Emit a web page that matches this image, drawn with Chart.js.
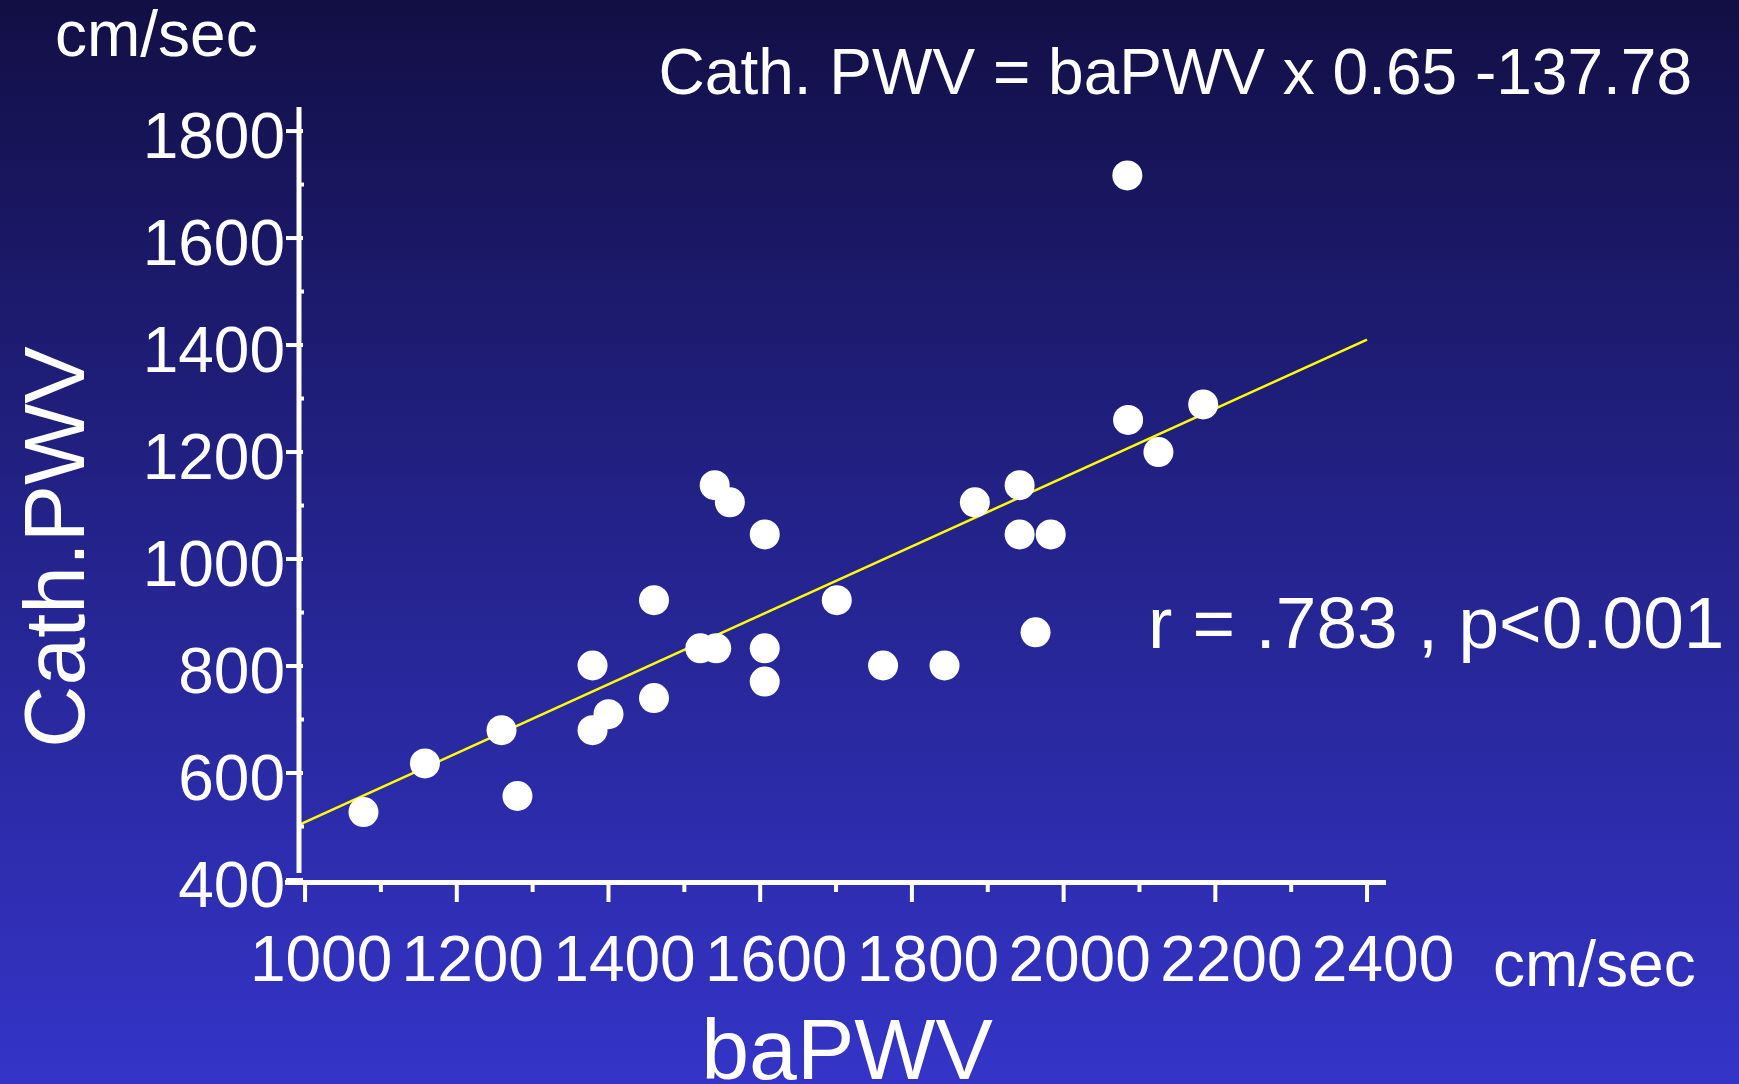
<!DOCTYPE html>
<html>
<head>
<meta charset="utf-8">
<script src="https://cdn.jsdelivr.net/npm/chart.js@4/dist/chart.umd.min.js"></script>
<style>
  html, body { margin: 0; padding: 0; overflow: hidden; background: #25248f; }
  #wrap { width: 1739px; height: 1084px; position: relative; }
</style>
</head>
<body>
<div id="wrap"><canvas id="c"></canvas></div>
<script>
// ---- data ----
const baPWV   = [1077, 1158, 1259, 1280, 1379, 1400, 1379, 1460, 1460, 1521, 1542, 1540, 1560, 1606, 1606, 1606, 1701, 1762, 1843, 1883, 1942, 1942, 1983, 1963, 2085, 2084, 2125, 2184];
const cathPWV = [527, 618, 680, 557, 680, 710, 801, 740, 923, 833, 833, 1138, 1106, 1046, 833, 771, 923, 801, 801, 1106, 1138, 1046, 1046, 863, 1260, 1717, 1200, 1289];
const trendX  = [992, 2400];
const trendY  = [503, 1410];
const xTicks  = [1000, 1200, 1400, 1600, 1800, 2000, 2200, 2400];
const xMinor  = [1100, 1300, 1500, 1700, 1900, 2100, 2300];
const yTicks  = [400, 600, 800, 1000, 1200, 1400, 1600, 1800];
const yMinor  = [500, 700, 900, 1100, 1300, 1500, 1700];
const equationText = 'Cath. PWV = baPWV x 0.65 -137.78';
const statsText = 'r = .783 , p<0.001';
const unitText = 'cm/sec';
const xTitle = 'baPWV';
const yTitle = 'Cath.PWV';

const FONT = '"Liberation Sans", Arial, Helvetica, sans-serif';

const bgPlugin = {
  id: 'bg',
  beforeDraw(chart) {
    const { ctx, width, height } = chart;
    const g = ctx.createLinearGradient(0, 0, 0, height);
    g.addColorStop(0, '#120f45');
    g.addColorStop(0.5, '#24238c');
    g.addColorStop(1, '#3434c8');
    ctx.save();
    ctx.fillStyle = g;
    ctx.fillRect(0, 0, width, height);
    ctx.restore();
  }
};

const axesPlugin = {
  id: 'axesDraw',
  afterDatasetsDraw(chart) {
    const { ctx, chartArea } = chart;
    const xs = chart.scales.x, ys = chart.scales.y;
    const L = chartArea.left, B = chartArea.bottom, T = chartArea.top, R = chartArea.right;
    ctx.save();
    ctx.strokeStyle = '#ffffff';
    ctx.lineCap = 'butt';
    ctx.lineWidth = 5;
    ctx.beginPath(); ctx.moveTo(L, T); ctx.lineTo(L, B - 7); ctx.stroke();
    ctx.beginPath(); ctx.moveTo(L - 14, B + 2.5); ctx.lineTo(R, B + 2.5); ctx.stroke();
    ctx.lineWidth = 4;
    yTicks.forEach(v => {
      const y = ys.getPixelForValue(v);
      ctx.beginPath(); ctx.moveTo(L - 13, y); ctx.lineTo(L + 4, y); ctx.stroke();
    });
    yMinor.forEach(v => {
      const y = ys.getPixelForValue(v);
      ctx.beginPath(); ctx.moveTo(L, y); ctx.lineTo(L + 5, y); ctx.stroke();
    });
    xTicks.forEach(v => {
      const x = xs.getPixelForValue(v);
      ctx.beginPath(); ctx.moveTo(x, B); ctx.lineTo(x, B + 22); ctx.stroke();
    });
    xMinor.forEach(v => {
      const x = xs.getPixelForValue(v);
      ctx.beginPath(); ctx.moveTo(x, B); ctx.lineTo(x, B + 12); ctx.stroke();
    });
    ctx.restore();
  },
  afterDraw(chart) {
    const { ctx } = chart;
    ctx.save();
    ctx.fillStyle = '#ffffff';
    ctx.textBaseline = 'alphabetic';
    ctx.font = '64px ' + FONT;
    ctx.textAlign = 'left';
    ctx.fillText(unitText, 55, 56);
    ctx.textAlign = 'right';
    ctx.fillText(equationText, 1692, 94);
    ctx.textAlign = 'left';
    ctx.fillText(unitText, 1493, 986);
    ctx.font = '73px ' + FONT;
    ctx.fillText(statsText, 1148, 648);
    ctx.font = '86px ' + FONT;
    ctx.textAlign = 'center';
    ctx.fillText(xTitle, 847, 1079);
    ctx.translate(84, 547);
    ctx.rotate(-Math.PI / 2);
    ctx.fillText(yTitle, 0, 0);
    ctx.restore();
  }
};

const points = baPWV.map((x, i) => ({ x: x, y: cathPWV[i] }));
const trend = trendX.map((x, i) => ({ x: x, y: trendY[i] }));

new Chart(document.getElementById('c'), {
  type: 'scatter',
  data: {
    datasets: [
      {
        label: 'Cath. PWV',
        data: points,
        backgroundColor: '#ffffff',
        borderColor: '#ffffff',
        borderWidth: 0,
        pointRadius: 15,
        pointHoverRadius: 15,
        order: 1,
        clip: false
      },
      {
        type: 'line',
        label: 'Regression',
        data: trend,
        borderColor: '#ffff00',
        borderWidth: 2.5,
        pointRadius: 0,
        fill: false,
        order: 2,
        clip: false
      }
    ]
  },
  options: {
    responsive: true,
    maintainAspectRatio: false,
    animation: false,
    devicePixelRatio: 1,
    layout: { autoPadding: false, padding: { left: 99, top: 107, right: 353, bottom: 84 } },
    plugins: { legend: { display: false }, tooltip: { enabled: false }, title: { display: false } },
    scales: {
      x: {
        type: 'linear',
        min: 992,
        max: 2425,
        afterBuildTicks: s => { s.ticks = xTicks.map(v => ({ value: v })); },
        afterFit: s => { s.height = 120; },
        grid: { display: false, drawTicks: false },
        border: { display: false },
        ticks: {
          color: '#ffffff',
          font: { family: FONT, size: 64 },
          padding: 45,
          labelOffset: 16,
          autoSkip: false,
          maxRotation: 0,
          minRotation: 0,
          callback: v => String(v)
        }
      },
      y: {
        type: 'linear',
        min: 400,
        max: 1845,
        afterBuildTicks: s => { s.ticks = yTicks.map(v => ({ value: v })); },
        afterFit: s => { s.width = 200; },
        grid: { display: false, drawTicks: false },
        border: { display: false },
        ticks: {
          color: '#ffffff',
          font: { family: FONT, size: 64 },
          padding: 14,
          labelOffset: 9,
          autoSkip: false,
          callback: v => String(v)
        }
      }
    }
  },
  plugins: [bgPlugin, axesPlugin]
});
</script>
</body>
</html>
